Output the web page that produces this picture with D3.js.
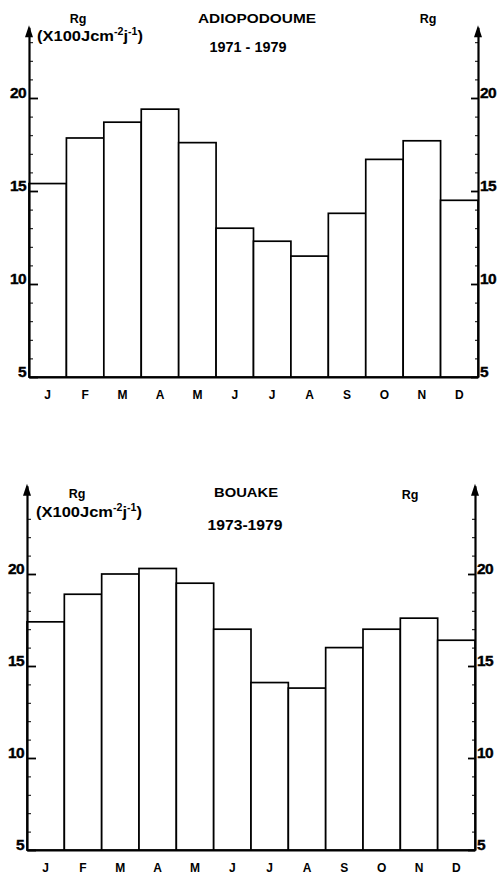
<!DOCTYPE html>
<html>
<head>
<meta charset="utf-8">
<script src="https://cdnjs.cloudflare.com/ajax/libs/d3/7.8.5/d3.min.js"></script>
<style>
  body { margin: 0; background: #fff; }
  svg text { font-family: "Liberation Sans", Arial, sans-serif; font-weight: bold; fill: #000; }
</style>
</head>
<body>
<svg id="chart" width="499" height="880"></svg>
<script>
var months = ["J", "F", "M", "A", "M", "J", "J", "A", "S", "O", "N", "D"];
var adioValues = [15.4, 17.85, 18.7, 19.4, 17.6, 13.0, 12.3, 11.5, 13.8, 16.7, 17.7, 14.5];
var bouakeValues = [17.4, 18.9, 20.0, 20.3, 19.5, 17.0, 14.1, 13.8, 16.0, 17.0, 17.6, 16.4];
var majorTicks = [5, 10, 15, 20];
var minorTicks = d3.range(5, 24, 1);

var svg = d3.select("#chart");

// one panel = one station
function drawPanel(p) {
  var g = svg.append("g");

  var x = d3.scaleBand()
    .domain(d3.range(months.length))
    .range([p.left, p.right])
    .paddingInner(0).paddingOuter(0);

  var y = d3.scaleLinear()
    .domain([5, p.yTop])
    .range([p.base, p.base - (p.yTop - 5) * p.unit]);

  // bars
  g.selectAll(".bar")
    .data(p.values)
    .enter().append("rect")
      .attr("class", "bar")
      .attr("x", function(d, i) { return x(i); })
      .attr("y", function(d) { return y(d); })
      .attr("width", x.bandwidth())
      .attr("height", function(d) { return y(5) - y(d); })
      .attr("fill", "#fff")
      .attr("stroke", "#000")
      .attr("stroke-width", 1.7);

  function styleLabels(a) {
    a.select(".domain").remove();
    a.selectAll("line").attr("stroke-width", 1.8);
    a.selectAll("text")
      .attr("dy", "-0.02em")
      .style("font-size", "15.5px")
      .style("font-weight", "bold")
      .style("font-family", "'Liberation Sans', Arial, sans-serif")
      .style("stroke", "#000").style("stroke-width", 0.4)
      .style("letter-spacing", "-0.6px");
  }

  // left axis: minor ticks, then major ticks with labels
  g.append("g")
    .attr("transform", "translate(" + p.left + ",0)")
    .call(d3.axisLeft(y).tickValues(minorTicks).tickSize(-4).tickSizeOuter(0).tickFormat(""))
    .call(function(a) { a.select(".domain").attr("stroke-width", 2.2); });
  g.append("g")
    .attr("transform", "translate(" + p.left + ",0)")
    .call(d3.axisLeft(y).tickValues(majorTicks).tickSize(-9).tickSizeOuter(0).tickPadding(3))
    .call(styleLabels);

  // right axis
  g.append("g")
    .attr("transform", "translate(" + p.right + ",0)")
    .call(d3.axisRight(y).tickValues(minorTicks).tickSize(-3).tickSizeOuter(0).tickFormat(""))
    .call(function(a) { a.select(".domain").attr("stroke-width", 2.2); });
  g.append("g")
    .attr("transform", "translate(" + p.right + ",0)")
    .call(d3.axisRight(y).tickValues(majorTicks).tickSize(-7).tickSizeOuter(0).tickPadding(2))
    .call(styleLabels);

  // baseline with month labels
  g.append("g")
    .attr("transform", "translate(0," + p.base + ")")
    .call(d3.axisBottom(x).tickSize(0).tickPadding(13).tickFormat(function(i) { return months[i]; }))
    .call(function(a) {
      a.select(".domain").attr("stroke-width", 2.2);
      a.selectAll("text").style("font-size", "12px").style("font-weight", "bold");
    });

  // arrow heads
  [p.left, p.right].forEach(function(ax) {
    var t = y(p.yTop);
    g.append("path")
      .attr("d", "M" + ax + "," + (t - 2) + "L" + (ax - 4) + "," + (t + 10) + "L" + (ax + 4) + "," + (t + 10) + "Z")
      .attr("fill", "#000");
  });

  // texts
  g.append("text").attr("x", p.rgLeft[0]).attr("y", p.rgLeft[1])
    .attr("text-anchor", "middle").attr("font-size", 12.5).text("Rg");
  g.append("text").attr("x", p.rgRight[0]).attr("y", p.rgRight[1])
    .attr("text-anchor", "middle").attr("font-size", 12.5).text("Rg");

  var u = g.append("text").attr("x", p.unitPos[0]).attr("y", p.unitPos[1])
    .attr("font-size", 15.5)
    .attr("textLength", 106).attr("lengthAdjust", "spacingAndGlyphs");
  u.append("tspan").text("(X100Jcm");
  u.append("tspan").attr("font-size", 10).attr("dy", -6).text("-2");
  u.append("tspan").attr("dy", 6).text("j");
  u.append("tspan").attr("font-size", 10).attr("dy", -6).text("-1");
  u.append("tspan").attr("dy", 6).text(")");

  g.append("text").attr("x", p.titlePos[0]).attr("y", p.titlePos[1])
    .attr("text-anchor", "middle").attr("font-size", 13.5)
    .attr("textLength", p.titleLen).attr("lengthAdjust", "spacingAndGlyphs").text(p.title);
  g.append("text").attr("x", p.yearsPos[0]).attr("y", p.yearsPos[1])
    .attr("text-anchor", "middle").attr("font-size", 14)
    .attr("textLength", p.yearsLen).attr("lengthAdjust", "spacingAndGlyphs").text(p.years);
}

drawPanel({
  values: adioValues, left: 29, right: 478, base: 377, unit: 18.6, yTop: 23.8,
  title: "ADIOPODOUME", titlePos: [257, 23], titleLen: 118,
  years: "1971 - 1979", yearsPos: [248, 52], yearsLen: 77,
  rgLeft: [78, 23], rgRight: [428, 23], unitPos: [37, 41]
});

drawPanel({
  values: bouakeValues, left: 27, right: 475, base: 850, unit: 18.4, yTop: 24.8,
  title: "BOUAKE", titlePos: [246, 497], titleLen: 64,
  years: "1973-1979", yearsPos: [245, 530], yearsLen: 75,
  rgLeft: [77, 498], rgRight: [410, 499], unitPos: [36, 517]
});
</script>
</body>
</html>
